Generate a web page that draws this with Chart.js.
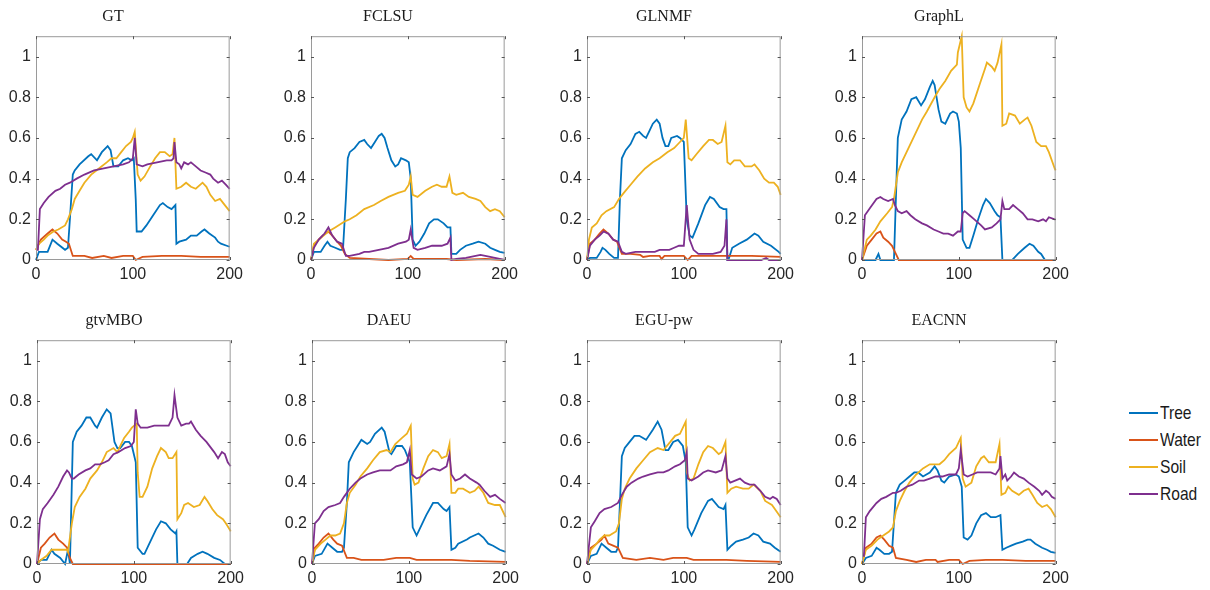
<!DOCTYPE html>
<html>
<head>
<meta charset="utf-8">
<script src="https://cdn.jsdelivr.net/npm/chart.js@4.4.0/dist/chart.umd.min.js"></script>
<style>
  body { margin: 0; background: #fff; width: 1210px; height: 590px; position: relative; overflow: hidden; }
  .panel { position: absolute; }
  #legend { position: absolute; left: 1129px; top: 399px; font-family: "Liberation Sans", Arial, sans-serif; font-size: 19px; color: #1a1a1a; }
  .row { height: 27px; display: flex; align-items: center; }
  .swatch { width: 29px; height: 2px; margin-right: 2px; }
  .lbl { display: inline-block; transform: scaleX(0.82); transform-origin: left center; }
</style>
</head>
<body>
<div id="legend"></div>
<script>
// --- series + axes ---
const seriesNames = ['Tree', 'Water', 'Soil', 'Road'];
const seriesColors = ['#0072BD', '#D95319', '#EDB120', '#7E2F8E'];
const panelTitles = ['GT', 'FCLSU', 'GLNMF', 'GraphL', 'gtvMBO', 'DAEU', 'EGU-pw', 'EACNN'];
const xTicks = [0, 100, 200];
const yTicks = [0, 0.2, 0.4, 0.6, 0.8, 1];

// --- abundance curves, [pixel index, abundance] ---
const gtTree = [[0,0],[3,0.04],[12,0.04],[17,0.1],[22,0.08],[30,0.05],[33,0.06],[35,0.2],[38,0.42],[40,0.44],[45,0.47],[54,0.51],[57,0.52],[63,0.49],[68,0.53],[74,0.56],[77,0.54],[80,0.46],[85,0.46],[90,0.49],[95,0.5],[99,0.49],[101,0.5],[103,0.3],[104,0.14],[109,0.14],[114,0.17],[121,0.22],[128,0.27],[131,0.28],[136,0.26],[140,0.25],[144,0.27],[145,0.08],[148,0.09],[155,0.1],[160,0.12],[166,0.12],[171,0.14],[174,0.15],[179,0.13],[185,0.11],[188,0.09],[191,0.08],[197,0.07],[200,0.065]];
const gtWater = [[0,0.05],[5,0.1],[12,0.13],[17,0.15],[22,0.13],[27,0.1],[31,0.09],[34,0.08],[38,0.02],[50,0.02],[58,0.01],[70,0.02],[78,0.01],[90,0.02],[100,0.02],[103,0],[110,0.015],[130,0.02],[150,0.02],[170,0.015],[200,0.015]];
const gtSoil = [[0,0.05],[3,0.08],[8,0.1],[12,0.12],[18,0.14],[23,0.15],[30,0.17],[33,0.2],[37,0.25],[40,0.3],[45,0.34],[50,0.38],[57,0.42],[65,0.45],[73,0.48],[78,0.5],[83,0.5],[88,0.53],[93,0.56],[98,0.58],[100,0.6],[102,0.63],[105,0.42],[108,0.39],[112,0.41],[118,0.46],[123,0.5],[128,0.53],[133,0.53],[138,0.51],[141,0.52],[143,0.6],[145,0.35],[150,0.36],[155,0.38],[160,0.36],[165,0.35],[172,0.38],[176,0.36],[180,0.32],[185,0.29],[190,0.3],[195,0.27],[200,0.24]];
const gtRoad = [[0,0.05],[2,0.05],[4,0.25],[8,0.28],[13,0.31],[20,0.34],[25,0.35],[30,0.37],[35,0.38],[42,0.4],[50,0.42],[60,0.44],[70,0.45],[80,0.46],[90,0.47],[96,0.48],[100,0.5],[102,0.6],[104,0.47],[110,0.46],[115,0.47],[125,0.48],[135,0.49],[140,0.49],[142,0.5],[143,0.58],[145,0.48],[148,0.47],[150,0.45],[153,0.48],[157,0.47],[160,0.48],[165,0.46],[170,0.44],[175,0.43],[180,0.42],[183,0.4],[188,0.38],[192,0.39],[196,0.37],[200,0.35]];

const fclsuTree = [[0,0],[3,0.04],[10,0.04],[14,0.07],[17,0.09],[20,0.07],[25,0.06],[30,0.05],[33,0.05],[36,0.3],[38,0.5],[40,0.53],[45,0.55],[50,0.58],[55,0.59],[58,0.57],[62,0.55],[66,0.58],[70,0.61],[73,0.62],[76,0.6],[79,0.55],[83,0.49],[87,0.46],[90,0.47],[93,0.5],[98,0.49],[101,0.48],[103,0.4],[105,0.1],[108,0.07],[112,0.09],[117,0.13],[122,0.18],[127,0.2],[131,0.2],[137,0.18],[141,0.16],[144,0.16],[145,0.03],[150,0.03],[154,0.05],[160,0.07],[167,0.08],[173,0.09],[180,0.08],[185,0.06],[190,0.05],[195,0.04],[200,0.035]];
const fclsuWater = [[0,0],[3,0.07],[8,0.1],[12,0.12],[18,0.14],[22,0.12],[27,0.09],[31,0.07],[35,0.03],[40,0.01],[60,0.005],[80,0],[100,0.005],[103,0.02],[106,0.005],[140,0.005],[150,0],[180,0.005],[200,0]];
const fclsuSoil = [[0,0],[3,0.08],[8,0.1],[13,0.12],[18,0.14],[25,0.16],[35,0.19],[40,0.2],[47,0.22],[55,0.25],[65,0.27],[72,0.29],[80,0.31],[90,0.33],[97,0.34],[101,0.37],[103,0.41],[105,0.32],[110,0.31],[118,0.34],[125,0.36],[130,0.37],[135,0.36],[140,0.36],[143,0.41],[146,0.33],[150,0.32],[157,0.33],[163,0.31],[170,0.3],[175,0.29],[180,0.26],[185,0.24],[190,0.25],[195,0.24],[200,0.21]];
const fclsuRoad = [[0,0],[3,0.06],[8,0.1],[14,0.13],[18,0.16],[22,0.12],[27,0.09],[32,0.08],[36,0.02],[40,0.02],[50,0.03],[55,0.04],[60,0.04],[70,0.05],[80,0.06],[90,0.08],[98,0.09],[101,0.1],[103,0.15],[106,0.06],[110,0.05],[118,0.06],[125,0.07],[135,0.07],[141,0.08],[144,0.11],[145,0],[150,0.005],[160,0.01],[170,0.02],[175,0.025],[180,0.02],[190,0.01],[200,0]];

const glnmfTree = [[0,0],[3,0.01],[10,0.01],[14,0.04],[16,0.06],[19,0.05],[23,0.03],[28,0.01],[32,0.01],[34,0.3],[36,0.5],[40,0.54],[45,0.57],[50,0.62],[54,0.63],[58,0.61],[61,0.6],[64,0.63],[68,0.67],[72,0.69],[75,0.67],[78,0.6],[81,0.56],[84,0.56],[87,0.6],[93,0.61],[96,0.6],[100,0.58],[103,0.2],[106,0.12],[109,0.11],[115,0.18],[122,0.27],[127,0.31],[131,0.3],[137,0.26],[141,0.25],[144,0.25],[145,0],[146,0],[150,0.06],[157,0.08],[165,0.1],[173,0.13],[177,0.12],[182,0.09],[190,0.07],[198,0.04],[200,0.03]];
const glnmfWater = [[0,0],[3,0.08],[8,0.1],[13,0.13],[17,0.15],[22,0.13],[27,0.1],[31,0.09],[36,0.03],[45,0.03],[55,0.025],[58,0.015],[65,0.02],[75,0.02],[77,0.005],[80,0.02],[100,0.02],[104,0],[108,0.02],[170,0.02],[200,0.015]];
const glnmfSoil = [[0,0],[2,0.1],[5,0.16],[10,0.18],[15,0.22],[20,0.24],[28,0.26],[33,0.3],[38,0.33],[45,0.37],[52,0.41],[60,0.45],[68,0.48],[75,0.5],[83,0.53],[90,0.55],[96,0.58],[100,0.6],[102,0.69],[105,0.5],[108,0.49],[113,0.52],[120,0.56],[126,0.59],[130,0.59],[135,0.57],[139,0.58],[143,0.66],[145,0.48],[148,0.47],[152,0.49],[158,0.49],[163,0.46],[170,0.46],[173,0.47],[178,0.44],[183,0.4],[188,0.38],[193,0.38],[197,0.36],[200,0.32]];
const glnmfRoad = [[0,0],[3,0.07],[8,0.1],[13,0.12],[17,0.14],[22,0.13],[27,0.1],[32,0.09],[36,0.04],[40,0.03],[50,0.04],[70,0.04],[75,0.05],[85,0.05],[90,0.06],[95,0.07],[100,0.07],[103,0.27],[106,0.1],[110,0.05],[115,0.03],[130,0.03],[138,0.04],[142,0.07],[144,0.2],[145,0],[180,0],[185,0.01],[188,0],[200,0]];

const graphlTree = [[0,0],[14,0],[17,0.03],[19,0],[33,0],[37,0.6],[41,0.69],[46,0.73],[51,0.79],[56,0.8],[61,0.76],[65,0.79],[70,0.85],[73,0.88],[75,0.86],[79,0.74],[82,0.68],[86,0.67],[91,0.72],[94,0.73],[98,0.72],[100,0.68],[102,0.55],[104,0.1],[108,0.06],[111,0.06],[115,0.12],[120,0.2],[125,0.27],[128,0.3],[132,0.28],[137,0.24],[140,0.22],[143,0.21],[145,0],[155,0],[161,0.03],[168,0.06],[173,0.08],[177,0.07],[182,0.04],[185,0.03],[189,0],[200,0]];
const graphlWater = [[0,0],[5,0.07],[10,0.1],[15,0.13],[19,0.14],[22,0.11],[27,0.09],[31,0.07],[35,0.03],[38,0],[200,0]];
const graphlSoil = [[0,0],[5,0.1],[9,0.12],[14,0.15],[19,0.19],[26,0.23],[31,0.26],[33,0.3],[37,0.43],[41,0.48],[48,0.55],[55,0.62],[62,0.69],[67,0.73],[75,0.8],[80,0.84],[86,0.88],[92,0.93],[98,0.96],[99,1.02],[103,1.1],[105,0.8],[108,0.75],[111,0.73],[115,0.77],[122,0.87],[127,0.94],[129,0.97],[134,0.95],[137,0.93],[140,0.97],[144,1.06],[145,0.66],[149,0.67],[152,0.72],[158,0.71],[163,0.67],[168,0.69],[171,0.7],[175,0.66],[180,0.58],[185,0.56],[190,0.56],[193,0.53],[199,0.45],[200,0.44]];
const graphlRoad = [[0,0],[3,0.22],[9,0.26],[15,0.3],[19,0.31],[22,0.3],[27,0.29],[32,0.3],[34,0.27],[37,0.24],[41,0.23],[46,0.24],[50,0.22],[55,0.2],[62,0.18],[67,0.17],[74,0.15],[79,0.14],[84,0.13],[89,0.13],[94,0.12],[99,0.14],[102,0.14],[104,0.23],[106,0.24],[111,0.22],[116,0.2],[123,0.17],[127,0.15],[134,0.16],[139,0.18],[143,0.2],[145,0.29],[147,0.25],[152,0.25],[156,0.27],[161,0.25],[166,0.23],[171,0.2],[176,0.2],[182,0.19],[187,0.2],[190,0.19],[193,0.21],[199,0.2],[200,0.2]];

const gtvmboTree = [[0,0],[4,0.02],[10,0.02],[15,0.07],[18,0.05],[24,0.03],[29,0],[32,0.07],[34,0],[37,0.6],[41,0.65],[46,0.68],[51,0.72],[55,0.72],[60,0.68],[62,0.67],[67,0.72],[72,0.76],[76,0.74],[80,0.6],[83,0.57],[86,0.57],[91,0.6],[95,0.6],[98,0.58],[102,0.5],[104,0.08],[109,0.05],[111,0.05],[116,0.1],[123,0.17],[128,0.21],[133,0.2],[138,0.17],[143,0.15],[144,0.16],[145,0],[155,0],[159,0.03],[166,0.05],[171,0.06],[176,0.05],[183,0.03],[189,0.02],[194,0],[200,0]];
const gtvmboWater = [[0,0],[4,0.08],[8,0.1],[13,0.13],[18,0.15],[22,0.12],[27,0.1],[31,0.08],[34,0.03],[37,0],[200,0]];
const gtvmboSoil = [[0,0],[4,0.02],[10,0.04],[15,0.07],[20,0.07],[25,0.07],[31,0.07],[32,0.06],[36,0.2],[39,0.28],[44,0.33],[50,0.37],[55,0.42],[62,0.46],[67,0.5],[72,0.55],[79,0.57],[83,0.55],[86,0.58],[90,0.62],[95,0.65],[98,0.67],[103,0.69],[104,0.45],[106,0.33],[109,0.33],[114,0.38],[119,0.47],[124,0.53],[128,0.57],[133,0.55],[136,0.52],[140,0.52],[144,0.55],[145,0.22],[149,0.25],[152,0.29],[156,0.3],[162,0.28],[168,0.29],[173,0.33],[176,0.31],[181,0.27],[186,0.24],[192,0.22],[195,0.2],[199,0.17],[200,0.16]];
const gtvmboRoad = [[0,0],[3,0.22],[6,0.27],[11,0.3],[17,0.34],[22,0.38],[27,0.43],[31,0.46],[33,0.45],[36,0.42],[38,0.42],[43,0.44],[50,0.46],[55,0.47],[60,0.49],[65,0.49],[70,0.5],[74,0.51],[79,0.54],[84,0.55],[91,0.57],[97,0.58],[100,0.6],[102,0.76],[104,0.69],[107,0.67],[114,0.67],[121,0.68],[131,0.68],[136,0.68],[140,0.72],[142,0.83],[145,0.72],[149,0.68],[154,0.69],[157,0.69],[159,0.7],[164,0.66],[169,0.63],[175,0.6],[183,0.55],[187,0.52],[191,0.55],[194,0.54],[197,0.5],[200,0.48]];

const daeuTree = [[0,0],[3,0.04],[10,0.05],[16,0.1],[21,0.08],[26,0.06],[31,0.06],[33,0.08],[36,0.3],[38,0.5],[43,0.55],[47,0.58],[51,0.61],[57,0.59],[60,0.6],[65,0.64],[72,0.67],[75,0.65],[80,0.55],[82,0.54],[87,0.58],[93,0.58],[96,0.56],[101,0.5],[104,0.18],[108,0.14],[111,0.17],[118,0.24],[125,0.3],[130,0.3],[136,0.27],[139,0.26],[142,0.28],[144,0.07],[148,0.08],[151,0.1],[160,0.12],[163,0.13],[172,0.15],[177,0.13],[182,0.1],[187,0.09],[194,0.07],[200,0.06]];
const daeuWater = [[0,0],[3,0.08],[7,0.1],[12,0.13],[17,0.15],[22,0.12],[26,0.1],[31,0.09],[36,0.03],[43,0.03],[51,0.02],[74,0.02],[87,0.03],[101,0.03],[108,0.02],[129,0.02],[144,0.02],[163,0.015],[200,0.01]];
const daeuSoil = [[0,0],[3,0.07],[9,0.1],[14,0.12],[19,0.14],[24,0.14],[29,0.15],[33,0.2],[36,0.3],[39,0.35],[45,0.39],[50,0.43],[57,0.47],[63,0.51],[70,0.55],[77,0.56],[81,0.55],[86,0.59],[93,0.62],[98,0.64],[102,0.68],[104,0.42],[106,0.39],[110,0.4],[115,0.47],[120,0.53],[125,0.56],[130,0.55],[134,0.52],[139,0.53],[142,0.59],[144,0.35],[148,0.35],[151,0.37],[156,0.37],[163,0.35],[168,0.36],[172,0.38],[177,0.35],[182,0.3],[189,0.29],[194,0.29],[200,0.23]];
const daeuRoad = [[0,0],[3,0.2],[7,0.22],[12,0.26],[17,0.28],[24,0.29],[29,0.3],[33,0.33],[39,0.37],[45,0.4],[50,0.42],[57,0.44],[63,0.45],[70,0.46],[77,0.46],[81,0.46],[87,0.48],[94,0.49],[98,0.5],[101,0.56],[103,0.44],[108,0.42],[113,0.43],[120,0.46],[125,0.47],[132,0.46],[139,0.48],[142,0.54],[144,0.44],[148,0.41],[153,0.42],[158,0.44],[163,0.42],[170,0.4],[173,0.39],[178,0.36],[184,0.33],[189,0.34],[194,0.32],[200,0.3]];

const egupwTree = [[0,0],[4,0.04],[10,0.05],[15,0.1],[20,0.08],[25,0.06],[30,0.06],[32,0.08],[34,0.3],[36,0.53],[39,0.57],[44,0.6],[49,0.63],[54,0.63],[61,0.61],[68,0.66],[73,0.7],[77,0.66],[81,0.56],[84,0.56],[89,0.6],[94,0.61],[99,0.58],[102,0.5],[104,0.18],[108,0.14],[111,0.17],[118,0.25],[125,0.31],[129,0.32],[136,0.28],[141,0.27],[143,0.29],[145,0.07],[149,0.09],[154,0.11],[161,0.12],[167,0.13],[172,0.15],[177,0.14],[182,0.11],[189,0.1],[194,0.08],[200,0.06]];
const egupwWater = [[0,0],[4,0.08],[10,0.1],[15,0.12],[18,0.14],[22,0.1],[27,0.09],[32,0.08],[37,0.03],[51,0.02],[65,0.03],[79,0.02],[89,0.03],[103,0.03],[110,0.02],[144,0.02],[165,0.015],[200,0.01]];
const egupwSoil = [[0,0],[4,0.07],[10,0.1],[13,0.12],[18,0.14],[23,0.14],[30,0.16],[33,0.2],[36,0.32],[39,0.37],[44,0.42],[51,0.47],[58,0.51],[65,0.55],[73,0.57],[79,0.56],[86,0.6],[91,0.63],[96,0.64],[100,0.68],[102,0.7],[103,0.45],[106,0.41],[110,0.42],[115,0.49],[120,0.55],[125,0.58],[130,0.57],[136,0.54],[139,0.55],[143,0.6],[145,0.35],[149,0.37],[154,0.38],[161,0.37],[167,0.37],[172,0.39],[179,0.36],[184,0.31],[191,0.29],[194,0.27],[200,0.23]];
const egupwRoad = [[0,0],[4,0.18],[8,0.21],[13,0.25],[18,0.27],[25,0.28],[32,0.3],[36,0.34],[41,0.38],[46,0.4],[53,0.42],[58,0.43],[65,0.44],[73,0.45],[79,0.45],[84,0.46],[91,0.48],[96,0.49],[101,0.51],[103,0.55],[104,0.42],[108,0.41],[115,0.43],[120,0.45],[125,0.46],[133,0.45],[139,0.46],[143,0.53],[145,0.42],[148,0.4],[153,0.41],[158,0.42],[163,0.4],[168,0.39],[173,0.39],[179,0.36],[184,0.33],[189,0.32],[192,0.33],[196,0.32],[200,0.29]];

const eacnnTree = [[0,0],[4,0.03],[10,0.04],[15,0.08],[18,0.07],[23,0.05],[28,0.05],[31,0.06],[35,0.35],[39,0.39],[44,0.41],[49,0.43],[54,0.45],[58,0.45],[63,0.43],[70,0.45],[75,0.48],[78,0.46],[82,0.41],[85,0.4],[90,0.43],[97,0.44],[100,0.43],[103,0.38],[105,0.13],[109,0.12],[113,0.14],[118,0.2],[123,0.24],[128,0.25],[133,0.23],[138,0.23],[143,0.24],[145,0.07],[149,0.08],[154,0.09],[159,0.1],[166,0.11],[171,0.12],[174,0.12],[179,0.1],[186,0.08],[191,0.07],[195,0.06],[200,0.055]];
const eacnnWater = [[0,0],[4,0.08],[10,0.1],[15,0.13],[19,0.14],[23,0.12],[28,0.09],[32,0.08],[35,0.03],[46,0.02],[56,0.01],[66,0.02],[76,0.02],[78,0.01],[90,0.02],[100,0.02],[104,0],[111,0.015],[128,0.02],[145,0.02],[169,0.015],[200,0.015]];
const eacnnSoil = [[0,0],[4,0.07],[10,0.09],[16,0.12],[22,0.14],[28,0.16],[32,0.18],[35,0.26],[39,0.31],[44,0.36],[49,0.4],[56,0.44],[63,0.47],[70,0.49],[75,0.49],[80,0.49],[85,0.51],[90,0.54],[97,0.57],[100,0.6],[102,0.62],[104,0.42],[107,0.38],[113,0.4],[118,0.48],[123,0.52],[126,0.53],[131,0.5],[138,0.5],[142,0.59],[144,0.34],[148,0.35],[151,0.38],[155,0.36],[162,0.34],[167,0.36],[172,0.37],[176,0.34],[181,0.3],[186,0.28],[191,0.29],[195,0.27],[200,0.23]];
const eacnnRoad = [[0,0.04],[2,0.04],[4,0.23],[8,0.26],[15,0.3],[20,0.32],[25,0.33],[32,0.35],[35,0.35],[40,0.36],[46,0.38],[52,0.39],[59,0.41],[64,0.41],[70,0.42],[76,0.43],[83,0.43],[90,0.44],[97,0.44],[100,0.47],[102,0.56],[105,0.44],[109,0.43],[114,0.44],[119,0.45],[126,0.45],[133,0.45],[138,0.44],[142,0.47],[143,0.53],[145,0.42],[148,0.44],[150,0.41],[154,0.43],[157,0.45],[162,0.43],[167,0.42],[172,0.4],[178,0.38],[183,0.36],[186,0.34],[190,0.36],[193,0.35],[196,0.33],[200,0.32]];

const panelSeries = [
    [gtTree, gtWater, gtSoil, gtRoad],
    [fclsuTree, fclsuWater, fclsuSoil, fclsuRoad],
    [glnmfTree, glnmfWater, glnmfSoil, glnmfRoad],
    [graphlTree, graphlWater, graphlSoil, graphlRoad],
    [gtvmboTree, gtvmboWater, gtvmboSoil, gtvmboRoad],
    [daeuTree, daeuWater, daeuSoil, daeuRoad],
    [egupwTree, egupwWater, egupwSoil, egupwRoad],
    [eacnnTree, eacnnWater, eacnnSoil, eacnnRoad]
];

// plot box (left, top) of each axes in the page
const boxPos = [[36, 36], [311, 36], [587, 36], [862, 36], [37, 340], [312, 340], [587, 340], [862, 340]];
const BOX_W = 194, BOX_H = 224;
const Y_AXIS_W = 40, X_AXIS_H = 30, TITLE_H = 36, PAD_R = 18;

// matlab style box with inward ticks
const boxPlugin = {
    id: 'mlbox',
    afterDatasetsDraw(chart) {
        const { ctx, chartArea: a, scales: { x, y } } = chart;
        ctx.save();
        ctx.strokeStyle = '#9a9a9a';
        ctx.lineWidth = 1;
        ctx.strokeRect(a.left + 0.5, a.top + 0.5, a.width - 1, a.height - 1);
        ctx.strokeStyle = '#555';
        ctx.beginPath();
        yTicks.forEach(v => {
            const py = Math.round(y.getPixelForValue(v)) + 0.5;
            ctx.moveTo(a.left, py); ctx.lineTo(a.left + 3, py);
            ctx.moveTo(a.right, py); ctx.lineTo(a.right - 3, py);
        });
        xTicks.forEach(v => {
            const px = Math.round(x.getPixelForValue(v)) + 0.5;
            ctx.moveTo(px, a.bottom); ctx.lineTo(px, a.bottom - 3);
            ctx.moveTo(px, a.top); ctx.lineTo(px, a.top + 3);
        });
        ctx.stroke();
        ctx.restore();
    }
};

const tickFont = { family: '"Liberation Sans", Arial, sans-serif', size: 16 };

panelTitles.forEach((title, i) => {
    const [bx, by] = boxPos[i];
    const div = document.createElement('div');
    div.className = 'panel';
    div.style.left = (bx - Y_AXIS_W) + 'px';
    div.style.top = (by - TITLE_H) + 'px';
    div.style.width = (Y_AXIS_W + BOX_W + PAD_R) + 'px';
    div.style.height = (TITLE_H + BOX_H + X_AXIS_H) + 'px';
    const canvas = document.createElement('canvas');
    div.appendChild(canvas);
    document.body.appendChild(div);

    new Chart(canvas.getContext('2d'), {
        type: 'line',
        data: {
            datasets: panelSeries[i].map((pts, k) => ({
                label: seriesNames[k],
                data: pts.map(([px, py]) => ({ x: px, y: py })),
                borderColor: seriesColors[k],
                borderWidth: 1.8,
                pointRadius: 0,
                tension: 0,
                fill: false,
                clip: false,
                order: 3 - k
            }))
        },
        options: {
            responsive: true,
            maintainAspectRatio: false,
            animation: false,
            events: [],
            layout: { padding: { left: 0, right: PAD_R, top: 0, bottom: 0 } },
            plugins: {
                legend: { display: false },
                tooltip: { enabled: false },
                title: {
                    display: true,
                    text: title,
                    color: '#1a1a1a',
                    font: { family: '"Liberation Serif", "Times New Roman", serif', size: 16, weight: 'normal' },
                    padding: { top: 7, bottom: 10 }
                }
            },
            scales: {
                x: {
                    type: 'linear',
                    min: 0,
                    max: 200,
                    afterBuildTicks: s => { s.ticks = xTicks.map(v => ({ value: v })); },
                    afterFit: s => { s.height = X_AXIS_H; },
                    grid: { display: false, drawTicks: false },
                    border: { display: false },
                    ticks: { color: '#262626', font: tickFont, padding: 5, maxRotation: 0 }
                },
                y: {
                    type: 'linear',
                    min: 0,
                    max: 1.1,
                    afterBuildTicks: s => { s.ticks = yTicks.map(v => ({ value: v })); },
                    afterFit: s => { s.width = Y_AXIS_W; },
                    grid: { display: false, drawTicks: false },
                    border: { display: false },
                    ticks: { color: '#262626', font: tickFont, padding: 5, callback: v => String(v) }
                }
            }
        },
        plugins: [boxPlugin]
    });
});

// legend
const legend = document.getElementById('legend');
seriesNames.forEach((name, k) => {
    const row = document.createElement('div');
    row.className = 'row';
    row.innerHTML = '<span class="swatch" style="background:' + seriesColors[k] + '"></span><span class="lbl">' + name + '</span>';
    legend.appendChild(row);
});
</script>
</body>
</html>
